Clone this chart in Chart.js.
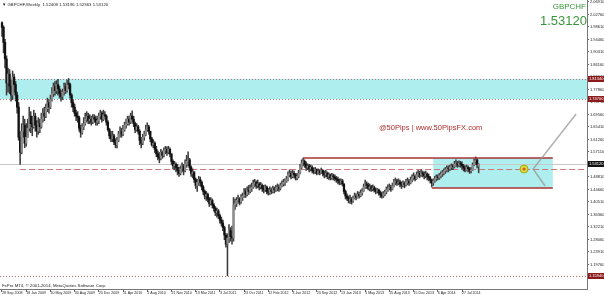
<!DOCTYPE html>
<html>
<head>
<meta charset="utf-8">
<script src="https://cdn.jsdelivr.net/npm/chart.js@4.4.1/dist/chart.umd.min.js"></script>
<style>
    html, body { margin: 0; padding: 0; background: #fff; }
    #contenedor { width: 604px; height: 297px; }
</style>
</head>
<body>
<div id="contenedor"><canvas id="Grafico1" width="604" height="297"></canvas></div>
<script>
// GBPCHF semanal, una vela por semana desde 28 Sep 2008
const weekOpen = [
    2.000,1.985,1.935,1.880,1.800,1.830,1.790,1.760,1.820,1.795,1.760,1.720,1.620,1.570,1.640,1.660,1.600,1.620,1.650,1.690,
    1.665,1.655,1.690,1.660,1.640,1.665,1.655,1.680,1.700,1.690,1.715,1.735,1.720,1.745,1.765,1.790,1.775,1.795,1.780,1.765,
    1.755,1.770,1.790,1.775,1.800,1.795,1.760,1.735,1.720,1.700,1.690,1.685,1.650,1.635,1.655,1.665,1.680,1.690,1.675,1.680,
    1.670,1.685,1.680,1.670,1.675,1.690,1.700,1.680,1.695,1.690,1.670,1.645,1.625,1.615,1.625,1.605,1.595,1.610,1.630,1.640,
    1.630,1.645,1.660,1.665,1.680,1.670,1.690,1.680,1.665,1.645,1.655,1.640,1.610,1.600,1.620,1.630,1.645,1.655,1.640,1.615,
    1.595,1.600,1.580,1.565,1.555,1.550,1.570,1.560,1.575,1.580,1.570,1.580,1.565,1.540,1.525,1.530,1.520,1.510,1.500,1.515,
    1.525,1.510,1.530,1.540,1.545,1.520,1.500,1.505,1.480,1.460,1.470,1.480,1.470,1.455,1.440,1.425,1.430,1.415,1.400,1.410,
    1.395,1.385,1.370,1.375,1.360,1.345,1.335,1.320,1.295,1.265,1.285,1.310,1.290,1.285,1.395,1.400,1.410,1.415,1.405,1.420,
    1.425,1.440,1.430,1.445,1.440,1.450,1.455,1.465,1.470,1.460,1.465,1.455,1.460,1.450,1.445,1.455,1.440,1.435,1.445,1.440,
    1.450,1.445,1.450,1.455,1.450,1.460,1.465,1.470,1.475,1.480,1.495,1.500,1.490,1.500,1.495,1.485,1.490,1.500,1.520,1.535,
    1.540,1.530,1.520,1.525,1.515,1.520,1.510,1.505,1.512,1.500,1.508,1.502,1.510,1.500,1.495,1.500,1.490,1.495,1.485,1.492,
    1.488,1.482,1.480,1.475,1.470,1.475,1.465,1.440,1.425,1.418,1.410,1.415,1.408,1.418,1.425,1.420,1.430,1.425,1.435,1.440,
    1.455,1.465,1.460,1.450,1.455,1.448,1.452,1.445,1.440,1.445,1.435,1.430,1.425,1.432,1.438,1.445,1.450,1.455,1.448,1.458,
    1.470,1.475,1.468,1.472,1.465,1.460,1.468,1.462,1.470,1.475,1.468,1.478,1.485,1.490,1.482,1.495,1.500,1.495,1.502,1.498,
    1.492,1.498,1.490,1.485,1.478,1.468,1.475,1.482,1.488,1.485,1.492,1.498,1.502,1.508,1.512,1.518,1.515,1.520,1.525,1.522,
    1.530,1.535,1.528,1.535,1.530,1.525,1.518,1.510,1.520,1.515,1.508,1.512,1.528,1.540,1.545,1.524
];
const weekHigh = [
    2.003,1.990,1.945,1.890,1.850,1.845,1.810,1.840,1.830,1.805,1.770,1.735,1.640,1.665,1.690,1.680,1.665,1.680,1.720,1.705,
    1.690,1.710,1.700,1.675,1.685,1.680,1.700,1.715,1.720,1.730,1.750,1.745,1.760,1.785,1.800,1.805,1.808,1.812,1.790,1.775,
    1.780,1.800,1.800,1.810,1.815,1.800,1.765,1.745,1.730,1.710,1.705,1.690,1.660,1.665,1.685,1.700,1.705,1.700,1.695,1.690,
    1.695,1.695,1.690,1.690,1.700,1.710,1.705,1.710,1.705,1.695,1.675,1.650,1.640,1.640,1.630,1.615,1.620,1.640,1.655,1.650,
    1.660,1.670,1.680,1.690,1.690,1.700,1.708,1.690,1.670,1.665,1.660,1.645,1.620,1.630,1.640,1.660,1.668,1.660,1.640,1.620,
    1.612,1.605,1.590,1.575,1.570,1.580,1.575,1.585,1.590,1.588,1.590,1.585,1.565,1.545,1.540,1.535,1.530,1.520,1.525,1.535,
    1.530,1.545,1.560,1.572,1.550,1.525,1.515,1.505,1.485,1.480,1.490,1.488,1.475,1.460,1.445,1.440,1.435,1.420,1.420,1.415,
    1.400,1.390,1.385,1.380,1.365,1.355,1.345,1.325,1.300,1.300,1.330,1.320,1.325,1.420,1.415,1.420,1.428,1.420,1.430,1.435,
    1.450,1.450,1.455,1.460,1.462,1.468,1.478,1.480,1.475,1.478,1.470,1.470,1.465,1.460,1.462,1.458,1.450,1.455,1.452,1.458,
    1.455,1.460,1.465,1.462,1.468,1.475,1.480,1.482,1.490,1.505,1.512,1.508,1.510,1.508,1.500,1.500,1.510,1.530,1.545,1.551,
    1.545,1.538,1.532,1.530,1.528,1.525,1.518,1.520,1.515,1.515,1.512,1.518,1.512,1.508,1.510,1.505,1.502,1.498,1.500,1.498,
    1.495,1.490,1.488,1.482,1.482,1.480,1.465,1.445,1.432,1.425,1.428,1.420,1.425,1.435,1.432,1.440,1.438,1.445,1.450,1.465,
    1.478,1.472,1.468,1.465,1.460,1.462,1.458,1.452,1.450,1.448,1.442,1.438,1.440,1.445,1.455,1.462,1.465,1.460,1.468,1.480,
    1.485,1.480,1.482,1.478,1.472,1.475,1.472,1.480,1.485,1.480,1.488,1.495,1.502,1.495,1.505,1.510,1.508,1.512,1.508,1.505,
    1.508,1.502,1.498,1.490,1.480,1.482,1.490,1.495,1.495,1.500,1.505,1.510,1.515,1.520,1.525,1.525,1.528,1.532,1.530,1.540,
    1.545,1.540,1.542,1.540,1.538,1.530,1.525,1.528,1.525,1.520,1.520,1.535,1.548,1.555,1.548,1.532
];
const weekLow = [
    1.955,1.900,1.850,1.760,1.770,1.765,1.740,1.745,1.770,1.740,1.700,1.610,1.530,1.565,1.620,1.585,1.590,1.620,1.640,1.635,
    1.625,1.650,1.640,1.620,1.630,1.635,1.650,1.670,1.675,1.685,1.705,1.700,1.715,1.740,1.755,1.760,1.765,1.760,1.750,1.740,
    1.745,1.760,1.765,1.770,1.780,1.750,1.720,1.705,1.690,1.675,1.670,1.640,1.620,1.630,1.645,1.660,1.670,1.665,1.665,1.660,
    1.665,1.670,1.660,1.660,1.665,1.680,1.670,1.675,1.680,1.660,1.640,1.615,1.605,1.605,1.595,1.585,1.585,1.605,1.620,1.620,
    1.625,1.640,1.650,1.660,1.660,1.665,1.670,1.655,1.635,1.640,1.630,1.595,1.585,1.595,1.610,1.625,1.640,1.630,1.605,1.590,
    1.585,1.570,1.555,1.545,1.535,1.545,1.550,1.555,1.565,1.560,1.565,1.555,1.530,1.515,1.512,1.505,1.495,1.490,1.495,1.505,
    1.495,1.505,1.520,1.525,1.510,1.490,1.485,1.470,1.450,1.440,1.460,1.458,1.445,1.430,1.415,1.410,1.405,1.390,1.395,1.385,
    1.375,1.360,1.355,1.350,1.335,1.325,1.310,1.280,1.255,1.160,1.270,1.275,1.265,1.275,1.380,1.390,1.400,1.395,1.400,1.410,
    1.420,1.420,1.425,1.430,1.435,1.440,1.450,1.455,1.450,1.452,1.445,1.448,1.440,1.435,1.440,1.432,1.428,1.430,1.432,1.435,
    1.435,1.440,1.442,1.440,1.445,1.455,1.458,1.460,1.470,1.475,1.488,1.482,1.485,1.485,1.478,1.478,1.485,1.498,1.515,1.525,
    1.520,1.510,1.512,1.505,1.508,1.502,1.498,1.500,1.495,1.497,1.495,1.500,1.492,1.485,1.488,1.482,1.480,1.478,1.480,1.478,
    1.475,1.470,1.465,1.462,1.463,1.458,1.432,1.415,1.410,1.402,1.400,1.398,1.404,1.415,1.412,1.418,1.418,1.422,1.428,1.440,
    1.450,1.450,1.445,1.442,1.440,1.442,1.438,1.432,1.435,1.428,1.420,1.418,1.420,1.425,1.432,1.440,1.445,1.440,1.445,1.455,
    1.462,1.460,1.462,1.455,1.450,1.455,1.452,1.458,1.462,1.460,1.465,1.472,1.478,1.475,1.480,1.488,1.485,1.490,1.488,1.482,
    1.485,1.478,1.475,1.468,1.455,1.460,1.470,1.475,1.478,1.480,1.485,1.490,1.495,1.500,1.505,1.505,1.510,1.512,1.512,1.518,
    1.522,1.520,1.522,1.520,1.515,1.508,1.505,1.508,1.505,1.500,1.502,1.510,1.525,1.530,1.518,1.502
];
const weekClose = [
    1.985,1.935,1.880,1.800,1.830,1.790,1.760,1.820,1.795,1.760,1.720,1.620,1.570,1.640,1.660,1.600,1.620,1.650,1.690,1.665,
    1.655,1.690,1.660,1.640,1.665,1.655,1.680,1.700,1.690,1.715,1.735,1.720,1.745,1.765,1.790,1.775,1.795,1.780,1.765,1.755,
    1.770,1.790,1.775,1.800,1.795,1.760,1.735,1.720,1.700,1.690,1.685,1.650,1.635,1.655,1.665,1.680,1.690,1.675,1.680,1.670,
    1.685,1.680,1.670,1.675,1.690,1.700,1.680,1.695,1.690,1.670,1.645,1.625,1.615,1.625,1.605,1.595,1.610,1.630,1.640,1.630,
    1.645,1.660,1.665,1.680,1.670,1.690,1.680,1.665,1.645,1.655,1.640,1.610,1.600,1.620,1.630,1.645,1.655,1.640,1.615,1.595,
    1.600,1.580,1.565,1.555,1.550,1.570,1.560,1.575,1.580,1.570,1.580,1.565,1.540,1.525,1.530,1.520,1.510,1.500,1.515,1.525,
    1.510,1.530,1.540,1.545,1.520,1.500,1.505,1.480,1.460,1.470,1.480,1.470,1.455,1.440,1.425,1.430,1.415,1.400,1.410,1.395,
    1.385,1.370,1.375,1.360,1.345,1.335,1.320,1.295,1.265,1.285,1.310,1.290,1.285,1.395,1.400,1.410,1.415,1.405,1.420,1.425,
    1.440,1.430,1.445,1.440,1.450,1.455,1.465,1.470,1.460,1.465,1.455,1.460,1.450,1.445,1.455,1.440,1.435,1.445,1.440,1.450,
    1.445,1.450,1.455,1.450,1.460,1.465,1.470,1.475,1.480,1.495,1.500,1.490,1.500,1.495,1.485,1.490,1.500,1.520,1.535,1.540,
    1.530,1.520,1.525,1.515,1.520,1.510,1.505,1.512,1.500,1.508,1.502,1.510,1.500,1.495,1.500,1.490,1.495,1.485,1.492,1.488,
    1.482,1.480,1.475,1.470,1.475,1.465,1.440,1.425,1.418,1.410,1.415,1.408,1.418,1.425,1.420,1.430,1.425,1.435,1.440,1.455,
    1.465,1.460,1.450,1.455,1.448,1.452,1.445,1.440,1.445,1.435,1.430,1.425,1.432,1.438,1.445,1.450,1.455,1.448,1.458,1.470,
    1.475,1.468,1.472,1.465,1.460,1.468,1.462,1.470,1.475,1.468,1.478,1.485,1.490,1.482,1.495,1.500,1.495,1.502,1.498,1.492,
    1.498,1.490,1.485,1.478,1.468,1.475,1.482,1.488,1.485,1.492,1.498,1.502,1.508,1.512,1.518,1.515,1.520,1.525,1.522,1.530,
    1.535,1.528,1.535,1.530,1.525,1.518,1.510,1.520,1.515,1.508,1.512,1.528,1.540,1.545,1.528,1.531
];

// etiquetas del eje de tiempo (cada 16 semanas)
const dateTickWeeks = [0, 16, 32, 48, 64, 80, 96, 112, 128, 144, 160, 176, 192, 208, 224, 240, 256, 272, 288, 304];
const dateLabels = ['28 Sep 2008', '18 Jan 2009', '10 May 2009', '30 Aug 2009', '20 Dec 2009', '11 Apr 2010',
    '1 Aug 2010', '21 Nov 2010', '13 Mar 2011', '3 Jul 2011', '23 Oct 2011', '12 Feb 2012', '3 Jun 2012',
    '23 Sep 2012', '13 Jan 2013', '5 May 2013', '25 Aug 2013', '15 Dec 2013', '6 Apr 2014', '27 Jul 2014'];

// etiquetas del eje de precios
const priceTicks = [2.0691, 2.0276, 1.9861, 1.9446, 1.9031, 1.8616, 1.8201, 1.7786, 1.7371, 1.6956, 1.6541, 1.6126,
    1.5711, 1.5296, 1.4881, 1.4466, 1.4051, 1.3636, 1.3221, 1.2806, 1.2391, 1.1976, 1.1561];

// niveles dibujados
const supplyZone = [1.8134, 1.7470];
const rangeBoxWeeks = [285, 364];
const rangeBoxPrices = [1.5510, 1.4515];
const rangeTopWeeks = [199, 364];
const rangeBottomWeeks = [284, 364];
const dashedLevel = 1.5146;
const dashedFromWeek = 12;
const lowLevel = 1.1594;
const bidPrice = 1.5312;
const markerWeek = 345;
const forkApex = [351, 1.5146];
const forkUp = [379.4, 1.697];
const forkDown = [358.9, 1.458];
const redLevels = [1.8134, 1.7470, 1.1594];

const fuente = "'Liberation Sans', Arial, sans-serif";

let velas = {
    id: 'velas',
    beforeDatasetsDraw(chart) {
        const { ctx, chartArea: a, scales: { x, y } } = chart;
        ctx.save();
        // zona cian superior
        let z1 = y.getPixelForValue(supplyZone[0]);
        let z2 = y.getPixelForValue(supplyZone[1]);
        ctx.fillStyle = '#afeeee';
        ctx.fillRect(a.left, z1, a.right - a.left, z2 - z1);
        ctx.strokeStyle = '#b08080';
        ctx.lineWidth = 1;
        ctx.setLineDash([1, 2]);
        [z1, z2].forEach(p => {
            ctx.beginPath();
            ctx.moveTo(a.left, Math.round(p) + 0.5);
            ctx.lineTo(a.right, Math.round(p) + 0.5);
            ctx.stroke();
        });
        // nivel inferior punteado
        let lp = Math.round(y.getPixelForValue(lowLevel)) + 0.5;
        ctx.strokeStyle = '#c07070';
        ctx.beginPath();
        ctx.moveTo(a.left, lp);
        ctx.lineTo(a.right, lp);
        ctx.stroke();
        ctx.setLineDash([]);
        // caja del rango
        let bx1 = x.getPixelForValue(rangeBoxWeeks[0]);
        let bx2 = x.getPixelForValue(rangeBoxWeeks[1]);
        let by1 = y.getPixelForValue(rangeBoxPrices[0]);
        let by2 = y.getPixelForValue(rangeBoxPrices[1]);
        ctx.fillStyle = '#afeeee';
        ctx.fillRect(bx1, by1, bx2 - bx1, by2 - by1);
        // linea bid
        let bp = Math.round(y.getPixelForValue(bidPrice)) + 0.5;
        ctx.strokeStyle = '#c8c8c8';
        ctx.beginPath();
        ctx.moveTo(a.left, bp);
        ctx.lineTo(a.right, bp);
        ctx.stroke();
        // linea discontinua
        let dp = Math.round(y.getPixelForValue(dashedLevel)) + 0.5;
        ctx.strokeStyle = '#c87878';
        ctx.setLineDash([6, 3]);
        ctx.beginPath();
        ctx.moveTo(x.getPixelForValue(dashedFromWeek), dp);
        ctx.lineTo(a.right, dp);
        ctx.stroke();
        ctx.restore();
    },
    afterDatasetsDraw(chart) {
        const { ctx, scales: { x, y } } = chart;
        ctx.save();
        ctx.strokeStyle = '#a83232';
        ctx.lineWidth = 1.5;
        let ty = y.getPixelForValue(rangeBoxPrices[0]);
        ctx.beginPath();
        ctx.moveTo(x.getPixelForValue(rangeTopWeeks[0]), ty);
        ctx.lineTo(x.getPixelForValue(rangeTopWeeks[1]), ty);
        ctx.stroke();
        let by = y.getPixelForValue(rangeBoxPrices[1]);
        ctx.beginPath();
        ctx.moveTo(x.getPixelForValue(rangeBottomWeeks[0]), by);
        ctx.lineTo(x.getPixelForValue(rangeBottomWeeks[1]), by);
        ctx.stroke();
        // horquilla gris
        ctx.strokeStyle = 'rgba(150,150,150,0.75)';
        ctx.lineWidth = 1.5;
        ctx.beginPath();
        ctx.moveTo(x.getPixelForValue(forkUp[0]), y.getPixelForValue(forkUp[1]));
        ctx.lineTo(x.getPixelForValue(forkApex[0]), y.getPixelForValue(forkApex[1]));
        ctx.lineTo(x.getPixelForValue(forkDown[0]), y.getPixelForValue(forkDown[1]));
        ctx.stroke();
        // marcador amarillo
        let mx = x.getPixelForValue(markerWeek);
        let my = y.getPixelForValue(dashedLevel);
        ctx.fillStyle = '#d6df3a';
        ctx.strokeStyle = '#a8a820';
        ctx.lineWidth = 1;
        ctx.beginPath();
        ctx.arc(mx, my, 4, 0, Math.PI * 2);
        ctx.fill();
        ctx.stroke();
        ctx.fillStyle = '#e0552a';
        ctx.beginPath();
        ctx.arc(mx, my, 1.6, 0, Math.PI * 2);
        ctx.fill();
        ctx.restore();
    },
    afterDraw(chart) {
        const { ctx, chartArea: a, scales: { y } } = chart;
        ctx.save();
        // etiquetas de nivel en el eje
        ctx.font = '4px ' + fuente;
        ctx.textBaseline = 'middle';
        ctx.textAlign = 'left';
        redLevels.concat([bidPrice]).forEach(v => {
            let py = y.getPixelForValue(v);
            ctx.fillStyle = v === bidPrice ? '#111111' : '#8b1a1a';
            ctx.fillRect(a.right + 1, py - 3, 16, 6);
            ctx.fillStyle = '#ffffff';
            ctx.fillText(v.toFixed(5), a.right + 2, py + 0.3);
        });
        // textos
        ctx.textBaseline = 'alphabetic';
        ctx.fillStyle = '#222';
        ctx.font = '4.3px ' + fuente;
        ctx.fillText('\u25BC GBPCHF,Weekly  1.52409 1.53196 1.52363 1.53120', 2, 6);
        ctx.fillText('FxPro MT4, \u00A9 2001-2014, MetaQuotes Software Corp.', 2, 287);
        ctx.fillStyle = '#b03030';
        ctx.font = '7.5px ' + fuente;
        ctx.fillText('@50Pips | www.50PipsFX.com', 379, 129.5);
        ctx.textAlign = 'right';
        ctx.fillStyle = '#3a963a';
        ctx.font = '8px ' + fuente;
        ctx.fillText('GBPCHF', 586, 9);
        ctx.font = '13px ' + fuente;
        ctx.fillText('1.53120', 587, 25);
        ctx.restore();
    }
};

let mechas = weekHigh.map((h, i) => ({ x: i, y: [weekLow[i], h] }));
let cuerpos = weekClose.map((c, i) => ({ x: i, y: [weekOpen[i], c] }));
let coloresCuerpo = weekClose.map((c, i) => c >= weekOpen[i] ? '#8c8c8c' : '#111111');

let CanvasG1 = document.getElementById('Grafico1').getContext('2d');
let datos = {
    datasets: [{
        data: cuerpos,
        backgroundColor: coloresCuerpo,
        barThickness: 1.6,
        minBarLength: 1,
        grouped: false,
        order: 1
    },
    {
        data: mechas,
        backgroundColor: '#3c3c3c',
        barThickness: 0.9,
        grouped: false,
        order: 2
    }]
};
let opciones = {
    responsive: false,
    animation: false,
    devicePixelRatio: 1,
    layout: { padding: 0 },
    plugins: { legend: { display: false }, tooltip: { enabled: false } },
    scales: {
        x: {
            type: 'linear',
            position: 'bottom',
            min: -1.32,
            max: 386.6,
            offset: false,
            grid: { drawOnChartArea: false, offset: false, tickLength: 3, color: '#666' },
            border: { color: '#777' },
            ticks: {
                autoSkip: false,
                maxRotation: 0,
                align: 'start',
                padding: -1,
                color: '#222',
                font: { size: 3.6, family: fuente },
                callback: (v, i) => dateLabels[i]
            },
            afterBuildTicks: (eje) => { eje.ticks = dateTickWeeks.map(v => ({ value: v })); },
            afterFit: (eje) => { eje.height = 8; eje.paddingLeft = 0; eje.paddingRight = 0; }
        },
        y: {
            type: 'linear',
            position: 'right',
            min: 1.1162,
            max: 2.0757,
            grid: { drawOnChartArea: false, tickLength: 2, color: '#666' },
            border: { color: '#777' },
            ticks: {
                padding: 1,
                color: '#222',
                font: { size: 4, family: fuente },
                callback: (v) => Number(v).toFixed(5)
            },
            afterBuildTicks: (eje) => { eje.ticks = priceTicks.map(v => ({ value: v })); },
            afterFit: (eje) => { eje.width = 17; eje.paddingTop = 0; eje.paddingBottom = 0; }
        }
    }
};
let G1 = new Chart(CanvasG1, {
    type: 'bar',
    data: datos,
    options: opciones,
    plugins: [velas]
});
</script>
</body>
</html>
